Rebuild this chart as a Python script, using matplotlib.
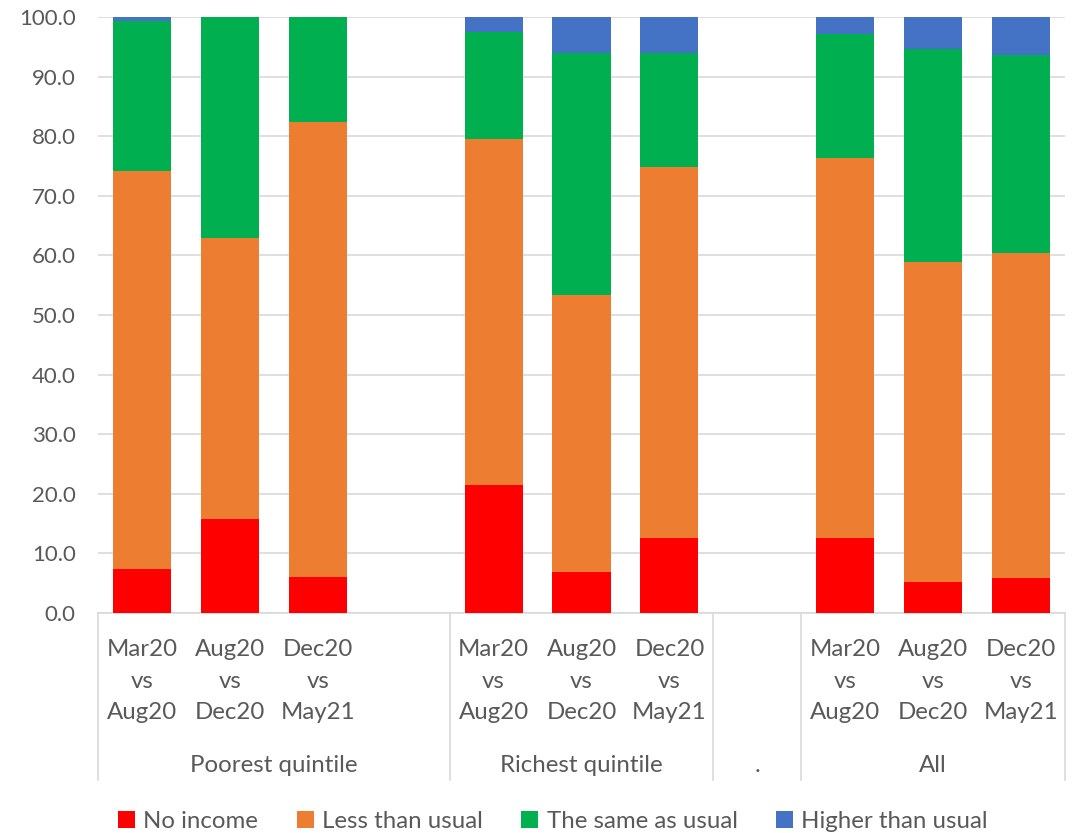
import numpy as np
import matplotlib
matplotlib.use("Agg")
import matplotlib.pyplot as plt
from matplotlib.patches import Patch
import matplotlib.transforms as mtransforms

plt.rcParams['font.family'] = ['Lato', 'DejaVu Sans']

# ---- data ----
categories = ["Mar20\nvs\nAug20", "Aug20\nvs\nDec20", "Dec20\nvs\nMay21", "",
              "Mar20\nvs\nAug20", "Aug20\nvs\nDec20", "Dec20\nvs\nMay21", "",
              "Mar20\nvs\nAug20", "Aug20\nvs\nDec20", "Dec20\nvs\nMay21"]
groups = ["Poorest quintile", "Richest quintile", ".", "All"]
group_sizes = [4, 3, 1, 3]

no_income = [7.4, 15.7, 6.0, np.nan, 21.4, 6.9, 12.6, np.nan, 12.6, 5.2, 5.8]
less_than_usual = [66.8, 47.2, 76.3, np.nan, 58.1, 46.5, 62.2, np.nan, 63.8, 53.7, 54.6]
same_as_usual = [25.1, 37.1, 17.7, np.nan, 17.9, 40.5, 19.2, np.nan, 20.7, 35.7, 33.2]
higher_than_usual = [0.7, 0.0, 0.0, np.nan, 2.6, 6.1, 6.0, np.nan, 2.9, 5.4, 6.4]

series = [("No income", no_income, "#FF0000"),
          ("Less than usual", less_than_usual, "#ED7D31"),
          ("The same as usual", same_as_usual, "#00B050"),
          ("Higher than usual", higher_than_usual, "#4472C4")]

yticks = np.arange(0, 101, 10)

# ---- figure ----
W, H = 1076, 833
TXT = "#595959"
FS = 17.3
fig = plt.figure(figsize=(W / 100, H / 100), dpi=100)
ax = fig.add_axes([98 / W, (H - 613) / H, 967 / W, 596 / H])

x = np.arange(len(categories))
bottom = np.zeros(len(categories))
for name, vals, col in series:
    v = np.array(vals, dtype=float)
    ax.bar(x, np.nan_to_num(v), width=0.66, bottom=bottom, color=col, label=name,
           edgecolor='none', zorder=3)
    bottom = bottom + np.nan_to_num(v)

ax.set_xlim(-0.5, len(categories) - 0.5)
ax.set_ylim(0, 100)
ax.set_yticks(yticks)
ax.set_yticklabels([f"{t:.1f}" for t in yticks], fontsize=16, color=TXT)
ax.tick_params(axis='y', length=0, pad=16)
ax.set_xticks([])
ax.grid(axis='y', color="#D9D9D9", linewidth=1.2, zorder=0)
for s in ['top', 'right', 'left']:
    ax.spines[s].set_visible(False)
ax.spines['bottom'].set_color("#D9D9D9")
ax.spines['bottom'].set_linewidth(1.2)

trans = mtransforms.blended_transform_factory(ax.transData, ax.transAxes)
for xi, lab in zip(x, categories):
    if lab:
        ax.text(xi, -(681 - 613) / 596, lab, transform=trans, ha='center', va='center',
                fontsize=FS, color=TXT, linespacing=1.62)

# group labels and separators
start = -0.5
bottom_sep = -(780 - 613) / 596
ax.plot([start, start], [0, bottom_sep], transform=trans, color="#D9D9D9", lw=1.2, clip_on=False)
for g, n in zip(groups, group_sizes):
    end = start + n
    ax.plot([end, end], [0, bottom_sep], transform=trans, color="#D9D9D9", lw=1.2, clip_on=False)
    ax.text((start + end) / 2, -(765 - 613) / 596, g, transform=trans, ha='center', va='center',
            fontsize=FS, color=TXT)
    start = end

handles = [Patch(facecolor=c, edgecolor='none', label=n) for n, _, c in series]
fig.legend(handles=handles, loc='center', bbox_to_anchor=(553 / W, 1 - 821 / H), ncol=4,
           frameon=False, fontsize=FS, labelcolor=TXT, handlelength=0.7,
           handleheight=0.7, handletextpad=0.35, columnspacing=1.6)

fig.savefig("out.png", dpi=100)
